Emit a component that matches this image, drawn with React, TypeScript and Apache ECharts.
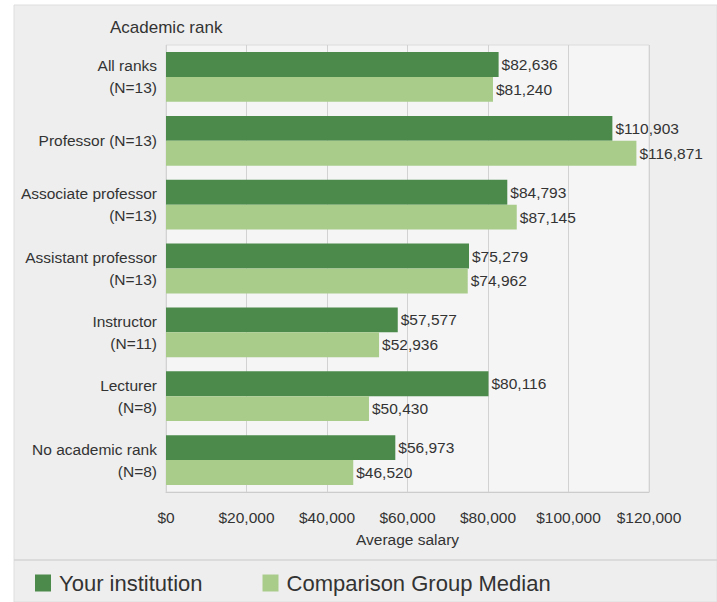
import React, { useEffect, useRef } from "react";
import * as echarts from "echarts";

const categories = [
  "All ranks\n(N=13)",
  "Professor (N=13)",
  "Associate professor\n(N=13)",
  "Assistant professor\n(N=13)",
  "Instructor\n(N=11)",
  "Lecturer\n(N=8)",
  "No academic rank\n(N=8)",
];
const yourInstitution = [82636, 110903, 84793, 75279, 57577, 80116, 56973];
const comparisonMedian = [81240, 116871, 87145, 74962, 52936, 50430, 46520];
const seriesNames = ["Your institution", "Comparison Group Median"];
const xTicks = { min: 0, max: 120000, interval: 20000 };

const FONT = "'Liberation Sans', Arial, sans-serif";
const DARK = "#4b8a4b";
const LIGHT = "#a9cc8b";
const FS = 15.5;

const money = (v: number) => "$" + v.toLocaleString("en-US");

export default function App() {
  const ref = useRef<HTMLDivElement>(null);
  useEffect(() => {
    document.body.style.margin = "0";
    const chart = echarts.init(ref.current!, undefined, { renderer: "svg" });
    const barLabel = {
      show: true,
      position: "right",
      distance: 3,
      formatter: (p: any) => money(p.value),
      fontSize: FS,
      color: "#333333",
      fontFamily: FONT,
    };
    chart.setOption({
      animation: false,
      backgroundColor: "#ffffff",
      textStyle: { fontFamily: FONT },
      graphic: [
        {
          type: "rect",
          z: -10,
          shape: { x: 14, y: 5, width: 703, height: 597 },
          style: { fill: "#eeeeee", stroke: "#dedede", lineWidth: 1 },
        },
        {
          type: "line",
          z: -5,
          shape: { x1: 14, y1: 560, x2: 717, y2: 560 },
          style: { stroke: "#d4d4d4", lineWidth: 1.5 },
        },
        {
          type: "text",
          x: 110,
          y: 19,
          style: { text: "Academic rank", font: `17px ${FONT}`, fill: "#333333" },
        },
      ],
      grid: {
        left: 166,
        right: 68,
        top: 45,
        bottom: 110,
        show: true,
        backgroundColor: "#f5f5f5",
        borderColor: "#dcdcdc",
        borderWidth: 1,
      },
      legend: {
        left: 35,
        top: 572,
        padding: 0,
        itemWidth: 16,
        itemHeight: 17,
        itemGap: 60,
        icon: "rect",
        textStyle: { fontSize: 22, color: "#333333", fontFamily: FONT, padding: [0, 0, 0, 3] },
        data: seriesNames,
      },
      xAxis: {
        type: "value",
        min: xTicks.min,
        max: xTicks.max,
        interval: xTicks.interval,
        name: "Average salary",
        nameLocation: "middle",
        nameGap: 39,
        nameTextStyle: { fontSize: FS, color: "#333333", fontFamily: FONT },
        axisLabel: {
          formatter: (v: number) => money(v),
          fontSize: FS,
          color: "#333333",
          margin: 17,
          fontFamily: FONT,
        },
        axisLine: { show: true, lineStyle: { color: "#cccccc" } },
        axisTick: { show: false },
        splitLine: { show: true, lineStyle: { color: "#d2d2d2", width: 1 } },
      },
      yAxis: {
        type: "category",
        inverse: true,
        data: categories,
        axisLine: { show: false },
        axisTick: { show: false },
        axisLabel: {
          fontSize: FS,
          color: "#333333",
          margin: 9,
          lineHeight: 22,
          fontFamily: FONT,
        },
      },
      series: [
        {
          name: seriesNames[0],
          type: "bar",
          data: yourInstitution,
          barGap: "0%",
          barCategoryGap: "22%",
          itemStyle: { color: DARK },
          label: barLabel,
        },
        {
          name: seriesNames[1],
          type: "bar",
          data: comparisonMedian,
          barGap: "0%",
          barCategoryGap: "22%",
          itemStyle: { color: LIGHT },
          label: barLabel,
        },
      ],
    });
    return () => chart.dispose();
  }, []);
  return <div ref={ref} style={{ width: 717, height: 602 }} />;
}
